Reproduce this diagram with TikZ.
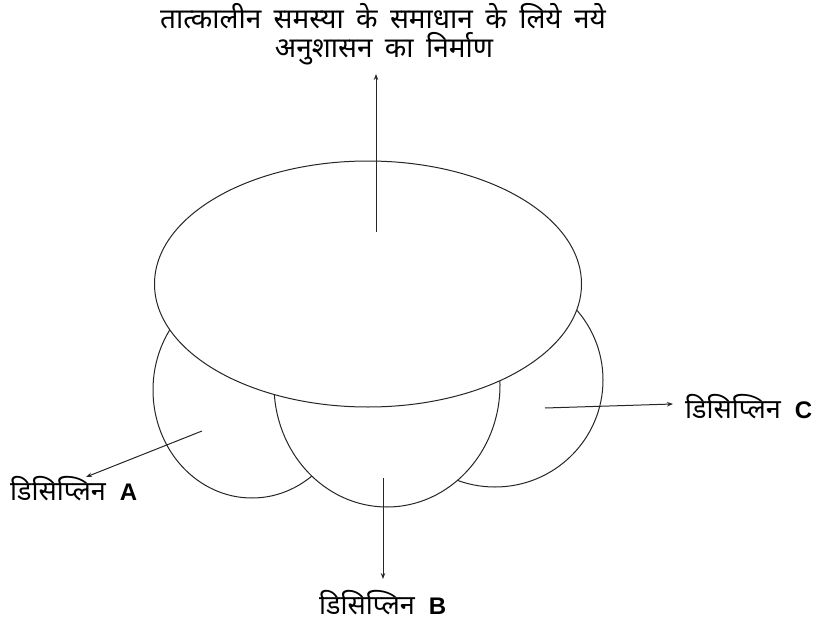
\documentclass[tikz,border=0pt]{standalone}
\usepackage{fontspec}
\usepackage{tikz}
\usetikzlibrary{arrows.meta,positioning,shapes.geometric}
\newfontfamily\devfont[Script=Devanagari]{Noto Sans}
\newfontfamily\devwide[Script=Devanagari,WordSpace=1.7]{Noto Sans}
\newfontfamily\latfont{Liberation Sans}
\tikzset{
  lobe/.style={ellipse,draw=black!85,line width=1pt,fill=white,inner sep=0pt},
  conn/.style={-{Stealth[length=6pt,width=4.5pt]},line width=1pt,black!85},
  lab/.style={inner sep=0pt,font=\fontsize{27}{30}\selectfont\devfont},
  toplab/.style={inner sep=0pt,font=\fontsize{28}{30}\selectfont\devwide},
}
\newcommand{\disc}[1]{डिसिप्लिन\hspace{14pt}{\latfont\fontsize{24}{26}\selectfont\bfseries #1}}

\begin{document}
\begin{tikzpicture}[x=1pt,y=-1pt]
  \useasboundingbox (0,0) rectangle (819,621);
  % the three disciplines
  \node[lobe,minimum width=198pt,minimum height=216pt] (discA) at (252,390) {};
  \node[lobe,minimum width=216pt,minimum height=214pt] (discC) at (495,380) {};
  \node[lobe,minimum width=226pt,minimum height=244pt] (discB) at (387,385) {};
  % new discipline on top
  \node[lobe,minimum width=427pt,minimum height=246pt] (newdisc) at (368,284) {};
  % labels
  \node[toplab,anchor=base] (top1) at (383,28) {तात्कालीन समस्या के समाधान के लिये नये};
  \node[toplab,anchor=base] (top2) at (384,57) {अनुशासन का निर्माण};
  \node[lab,anchor=base west] (labA) at (10,500) {\disc{A}};
  \node[lab,anchor=base west] (labB) at (319,614) {\disc{B}};
  \node[lab,anchor=base west] (labC) at (685,418) {\disc{C}};
  % arrows
  \coordinate (srcN) at (376,232);  \coordinate (tipN) at (376,74);
  \coordinate (srcA) at (202,431);  \coordinate (tipA) at (86,477);
  \coordinate (srcB) at (383,478);  \coordinate (tipB) at (383,579);
  \coordinate (srcC) at (545,408);  \coordinate (tipC) at (673,404);
  \draw[conn] (srcN) -- (tipN);
  \draw[conn] (srcA) -- (tipA);
  \draw[conn] (srcB) -- (tipB);
  \draw[conn] (srcC) -- (tipC);
\end{tikzpicture}
\end{document}
